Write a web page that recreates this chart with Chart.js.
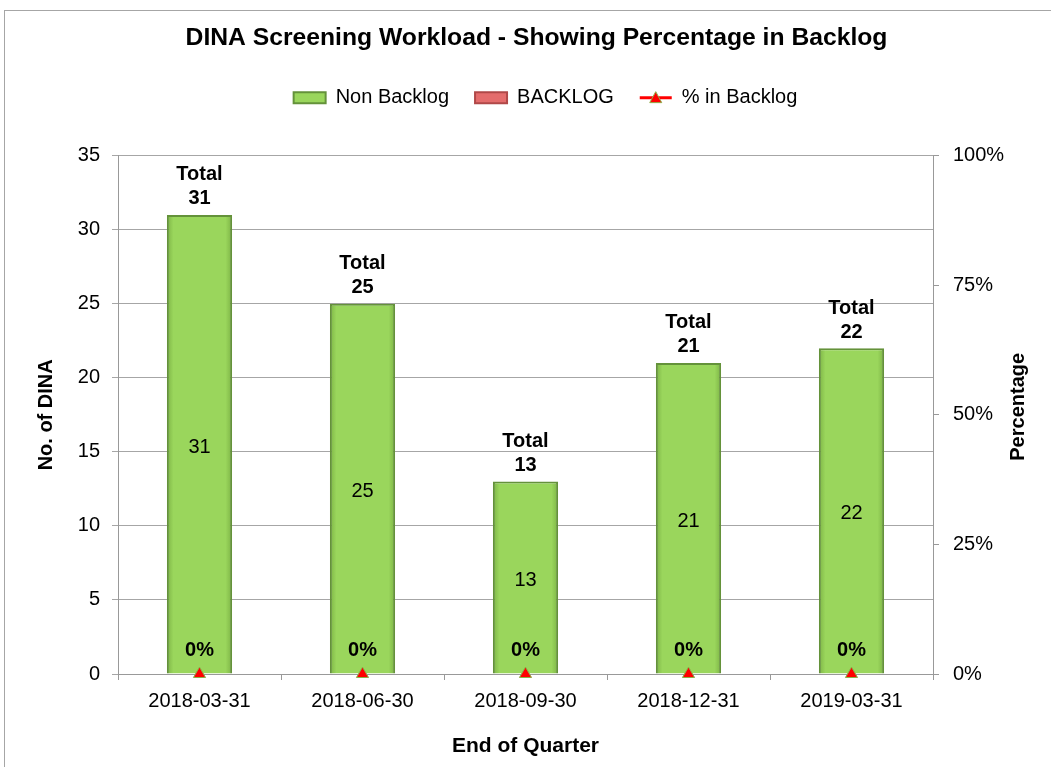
<!DOCTYPE html>
<html>
<head>
<meta charset="utf-8">
<script src="https://cdn.jsdelivr.net/npm/chart.js@4/dist/chart.umd.min.js"></script>
<style>
  html, body { margin: 0; padding: 0; background: #fff; overflow: hidden; }
  #frame { position: absolute; left: 4px; top: 10px; width: 1100px; height: 800px; border: 1px solid #a6a6a6; }
  #wrap { position: absolute; left: 0; top: 0; width: 1051px; height: 767px; }
</style>
</head>
<body>
<div id="frame"></div>
<div id="wrap"><canvas id="chart"></canvas></div>
<script>
const quarters = ["2018-03-31", "2018-06-30", "2018-09-30", "2018-12-31", "2019-03-31"];
const nonBacklog = [31, 25, 13, 21, 22];
const backlog = [0, 0, 0, 0, 0];
const pctBacklog = [0, 0, 0, 0, 0];

const FONT = "'Liberation Sans', Arial, sans-serif";
const BAR_PCT = 0.4;

// bevel-like shading across each bar
function shaded(edge, mid) {
  return (c) => {
    const x = c.chart.scales.x;
    if (c.type !== "data" || !x || !x.width) return mid;
    const cx = x.getPixelForValue(c.dataIndex);
    const half = (x.width / quarters.length) * BAR_PCT / 2;
    const g = c.chart.ctx.createLinearGradient(cx - half, 0, cx + half, 0);
    g.addColorStop(0, edge);
    g.addColorStop(0.1, mid);
    g.addColorStop(0.9, mid);
    g.addColorStop(1, edge);
    return g;
  };
}

// value, total and percentage labels, plus the right axis title
const labelPlugin = {
  id: "labels",
  beforeLayout(chart) {
    // leave room between the legend and the plot
    const lg = chart.legend;
    if (lg && !lg._extra) {
      const fit = lg.fit;
      lg.fit = function () {
        fit.call(this);
        this.height += 38;
      };
      lg._extra = true;
    }
  },
  afterLayout(chart) {
    // title and legend sit a little right of centre in the original
    chart.titleBlock.left += 22;
    chart.legend.left += 40;
  },
  afterDatasetsDraw(chart) {
    const ctx = chart.ctx;
    const bars = chart.getDatasetMeta(0).data;
    const backBars = chart.getDatasetMeta(1).data;
    const points = chart.getDatasetMeta(2).data;
    ctx.save();
    ctx.fillStyle = "#000";
    ctx.textAlign = "center";
    ctx.textBaseline = "middle";
    bars.forEach((bar, i) => {
      ctx.font = "20px " + FONT;
      ctx.fillText(String(nonBacklog[i]), bar.x, (bar.y + bar.base) / 2 + 3);
      const top = backBars[i].y;
      ctx.font = "bold 20px " + FONT;
      ctx.fillText("Total", bar.x, top - 40);
      ctx.fillText(String(nonBacklog[i] + backlog[i]), bar.x, top - 16);
      const p = points[i];
      ctx.fillText(pctBacklog[i] + "%", p.x, p.y - 24);
    });
    // right axis title, reading upwards
    const area = chart.chartArea;
    ctx.translate(1018, (area.top + area.bottom) / 2 - 8);
    ctx.rotate(-Math.PI / 2);
    ctx.fillText("Percentage", 0, 0);
    ctx.restore();
  },
  afterDraw(chart) {
    // triangle marker on the line legend entry
    const lg = chart.legend;
    const idx = lg.legendItems.findIndex((it) => it.datasetIndex === 2);
    const box = lg.legendHitBoxes[idx];
    if (!box) return;
    const ctx = chart.ctx;
    const cx = box.left + 16, cy = box.top + box.height / 2;
    ctx.save();
    ctx.beginPath();
    ctx.moveTo(cx, cy - 6);
    ctx.lineTo(cx + 6, cy + 5);
    ctx.lineTo(cx - 6, cy + 5);
    ctx.closePath();
    ctx.fillStyle = "#ff0000";
    ctx.strokeStyle = "#8db04a";
    ctx.lineWidth = 1;
    ctx.fill();
    ctx.stroke();
    ctx.restore();
  },
};

new Chart(document.getElementById("chart"), {
  data: {
    labels: quarters,
    datasets: [
      {
        type: "bar",
        label: "Non Backlog",
        data: nonBacklog,
        backgroundColor: shaded("#7db446", "#9ad65c"),
        borderColor: "#64923a",
        borderWidth: 2,
        yAxisID: "y",
        stack: "s",
        barPercentage: BAR_PCT,
        categoryPercentage: 1,
        order: 2,
      },
      {
        type: "bar",
        label: "BACKLOG",
        data: backlog,
        backgroundColor: "#e46c6c",
        borderColor: "#b04848",
        borderWidth: 2,
        yAxisID: "y",
        stack: "s",
        barPercentage: BAR_PCT,
        categoryPercentage: 1,
        order: 2,
      },
      {
        type: "line",
        label: "% in Backlog",
        data: pctBacklog,
        borderColor: "#ff0000",
        backgroundColor: "#ff0000",
        borderWidth: 3,
        showLine: false,
        pointStyle: "triangle",
        pointRadius: 7,
        pointBackgroundColor: "#ff0000",
        pointBorderColor: "#8db04a",
        pointBorderWidth: 1,
        yAxisID: "y1",
        clip: false,
        order: 1,
      },
    ],
  },
  options: {
    responsive: true,
    maintainAspectRatio: false,
    animation: false,
    layout: { padding: 0 },
    plugins: {
      title: {
        display: true,
        text: "DINA Screening Workload - Showing Percentage in Backlog",
        color: "#000",
        font: { family: FONT, size: 24.7, weight: "bold" },
        padding: { top: 23, bottom: 9 },
      },
      legend: {
        labels: {
          color: "#000",
          font: { family: FONT, size: 20 },
          usePointStyle: true,
          pointStyleWidth: 32,
          boxHeight: 11,
          padding: 26,
          generateLabels(chart) {
            const items = Chart.defaults.plugins.legend.labels.generateLabels(chart);
            items.sort((a, b) => a.datasetIndex - b.datasetIndex);
            items.forEach((it) => {
              if (it.datasetIndex === 2) {
                it.pointStyle = "line";
                it.lineWidth = 3;
                it.strokeStyle = "#ff0000";
              } else {
                it.pointStyle = "rect";
                if (it.datasetIndex === 0) it.fillStyle = "#9ad65c";
              }
            });
            return items;
          },
        },
      },
      tooltip: { enabled: false },
    },
    scales: {
      x: {
        stacked: true,
        grid: { display: true, drawOnChartArea: false, offset: true, color: "#999", tickLength: 6 },
        border: { color: "#999" },
        ticks: { color: "#000", font: { family: FONT, size: 20 }, padding: 9 },
        title: { display: true, text: "End of Quarter", color: "#000", font: { family: FONT, size: 21, weight: "bold" }, padding: { top: 6, bottom: 8 } },
        afterFit(axis) { axis.height = 93; },
      },
      y: {
        stacked: true,
        position: "left",
        min: 0,
        max: 35,
        ticks: { stepSize: 5, color: "#000", font: { family: FONT, size: 20 }, padding: 12 },
        grid: { color: "#a6a6a6", tickLength: 6 },
        border: { color: "#999" },
        title: { display: true, text: "No. of DINA", color: "#000", font: { family: FONT, size: 20, weight: "bold" }, padding: { top: 34 } },
        afterFit(axis) { axis.width = 118; },
      },
      y1: {
        position: "right",
        min: 0,
        max: 100,
        ticks: { stepSize: 25, color: "#000", font: { family: FONT, size: 20 }, padding: 14, callback: (v) => v + "%" },
        grid: { drawOnChartArea: false, color: "#999", tickLength: 6 },
        border: { color: "#999" },
        afterFit(axis) { axis.width = 118; },
      },
    },
  },
  plugins: [labelPlugin],
});
</script>
</body>
</html>
